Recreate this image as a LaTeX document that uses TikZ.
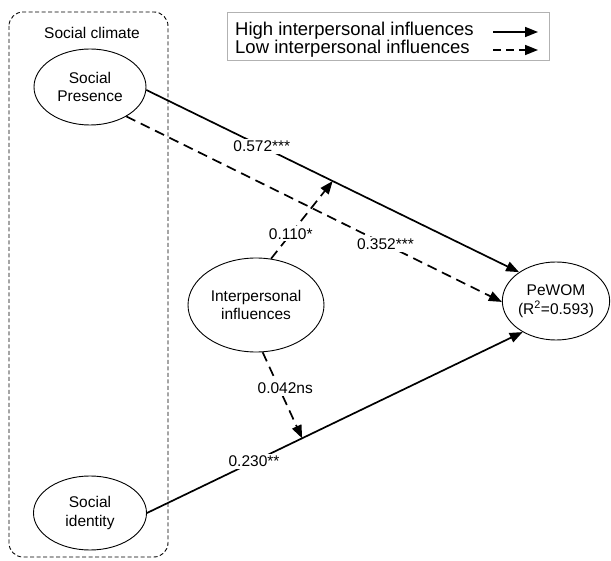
\documentclass[tikz,border=0pt]{standalone}
\usepackage{fontspec}
\setmainfont{Liberation Sans}
\usetikzlibrary{shapes.geometric,arrows.meta}
\begin{document}
\begin{tikzpicture}[x=1pt,y=-1pt,
  ell/.style={draw, ellipse, line width=0.9pt, inner sep=0pt, align=center, font=\fontsize{15.5}{18.5}\selectfont},
  conn/.style={line width=1.7pt, -{Triangle[length=13pt,width=10pt]}},
  dconn/.style={conn, dash pattern=on 10pt off 6pt},
  lbl/.style={fill=white, inner xsep=3pt, inner ysep=2pt, font=\fontsize{15.5}{18}\selectfont},
  legtxt/.style={anchor=west, inner sep=0pt, font=\fontsize{18.5}{20}\selectfont}
]
\useasboundingbox (0,0) rectangle (611,561);
% social climate box
\draw[line width=0.9pt, dash pattern=on 4pt off 2.5pt, rounded corners=14pt] (9,12) rectangle (168,557);
\node[font=\fontsize{15.5}{18}\selectfont] (clim) at (92,33) {Social climate};
% legend
\draw[draw=gray!60, line width=0.7pt] (227,12) rectangle (549,60);
\node[legtxt] (lh) at (235,31) {High interpersonal influences};
\node[legtxt] (ll) at (235,49) {Low interpersonal influences};
\coordinate (lh1) at (493,32);
\coordinate (lh2) at (538,32);
\coordinate (ll1) at (493,50);
\coordinate (ll2) at (538,50);
\draw[conn] (lh1) -- (lh2);
\draw[conn, dash pattern=on 8pt off 5pt] (ll1) -- (ll2);
% nodes
\node[ell, minimum width=112pt, minimum height=76pt] (sp) at (90,87) {Social\\Presence};
\node[ell, minimum width=113pt, minimum height=74pt] (si) at (90,513) {Social\\identity};
\node[ell, minimum width=136pt, minimum height=94pt] (ip) at (256,305) {Interpersonal\\influences};
\node[ell, minimum width=102pt, minimum height=78pt] (pw) at (556,301) {PeWOM\\(R\textsuperscript{2}=0.593)};
% connectors
\draw[conn] (sp.-3) -- (pw.142) coordinate[pos=0.5] (m1) node[lbl, pos=0.31] {0.572***};
\draw[dconn] (sp.-39) -- (pw.181) node[lbl, pos=0.69] {0.352***};
\draw[conn] (si.0) -- (pw.223) coordinate[pos=0.413] (m2) node[lbl, pos=0.285] {0.230**};
\draw[dconn] (ip.72) -- (m1) node[lbl, pos=0.32] {0.110*};
\draw[dconn] (ip.-82) -- (m2) node[lbl, pos=0.42, xshift=6pt] {0.042ns};
\end{tikzpicture}
\end{document}
